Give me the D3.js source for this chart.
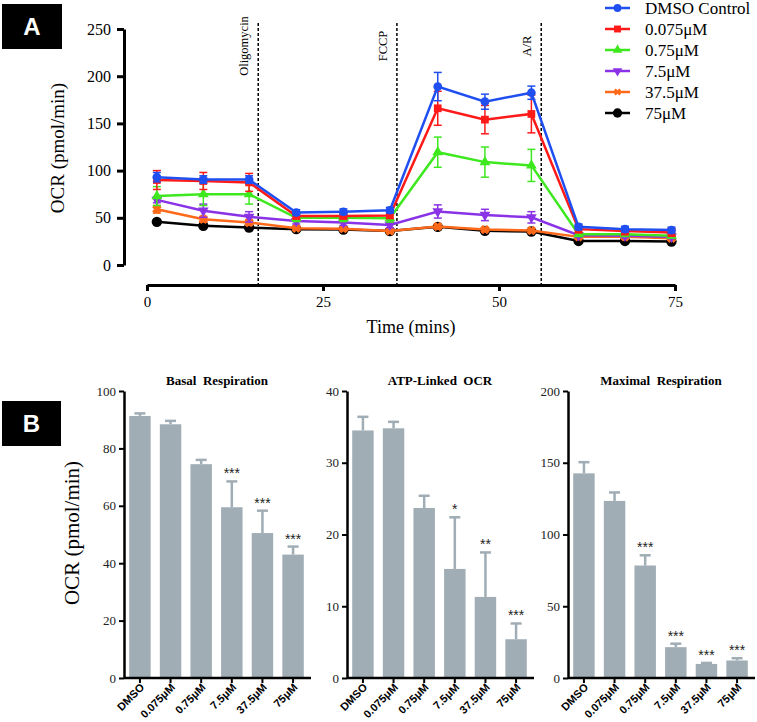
<!DOCTYPE html>
<html>
<head>
<meta charset="utf-8">
<script src="https://cdn.jsdelivr.net/npm/d3@7"></script>
<style>
  body { margin: 0; background: #fff; }
  svg { display: block; }
</style>
</head>
<body>
<svg id="chart" width="757" height="722"></svg>
<script>
// ---------------- DATA (panel A) ----------------
const times = [1.4, 8, 14.5, 21.2, 27.9, 34.5, 41.3, 48, 54.6, 61.3, 67.9, 74.5];
const seriesNames = ["DMSO Control", "0.075\u03bcM", "0.75\u03bcM", "7.5\u03bcM", "37.5\u03bcM", "75\u03bcM"];
const dmsoVals  = [93, 90.5, 90.5, 55.6, 56.4, 58, 189, 173, 182.5, 40.4, 38, 37];
const c0075Vals = [90, 89, 87.5, 52, 52, 52.5, 166, 154, 160, 38, 36, 34.5];
const c075Vals  = [73, 75, 75, 50, 50, 49.5, 119.5, 109, 105.5, 32.6, 32.6, 31];
const c75Vals   = [69, 57.5, 51, 46.5, 45, 42.5, 56.7, 53, 50.5, 31.5, 31, 30];
const c375Vals  = [59, 48.5, 45, 39, 38.5, 36, 40.8, 37.5, 36.5, 29.8, 29.8, 28.4];
const c750Vals  = [45.7, 41.5, 39.7, 38, 37.5, 36, 40.4, 36.2, 35.5, 25.5, 25.5, 24.8];
const dmsoErr  = [5, 4, 4, 3, 3, 3, 15, 8, 7, 3, 3, 3];
const c0075Err = [10, 9, 9.5, 3, 3, 3, 18, 15, 20, 4, 4, 4];
const c075Err  = [10, 12, 10.5, 4, 4, 4, 16, 16, 17, 2, 2, 2];
const c75Err   = [3, 7, 5.5, 3, 3, 3, 7, 6, 6, 2, 2, 2];
const c375Err  = [4, 3, 3, 2, 2, 2, 2, 2, 2, 2, 2, 2];
const c750Err  = [1.5, 1.5, 1.5, 1.5, 1.5, 1.5, 1.5, 1.5, 1.5, 1.5, 1.5, 1.5];
const injectionTimes = [15.8, 35.5, 56];
const injectionNames = ["Oligomycin", "FCCP", "A/R"];
const yTicksA = [0, 50, 100, 150, 200, 250];
const xTicksA = [0, 25, 50, 75];

// ---------------- DATA (panel B) ----------------
const categories = ["DMSO", "0.075\u03bcM", "0.75\u03bcM", "7.5\u03bcM", "37.5\u03bcM", "75\u03bcM"];
const basalVals = [91.3, 88.4, 74.5, 59.5, 50.5, 43];
const basalErr  = [0.9, 1.2, 1.5, 9, 7.8, 2.8];
const basalStars = ["", "", "", "***", "***", "***"];
const atpVals = [34.5, 34.8, 23.7, 15.2, 11.3, 5.4];
const atpErr  = [1.9, 0.9, 1.7, 7.2, 6.2, 2.2];
const atpStars = ["", "", "", "*", "**", "***"];
const maxVals = [142.6, 123.4, 78.4, 21.5, 9.8, 12.2];
const maxErr  = [7.8, 5.9, 7.1, 2.4, 0.7, 1.6];
const maxStars = ["", "", "***", "***", "***", "***"];
const basalTicks = [0, 20, 40, 60, 80, 100];
const atpTicks = [0, 10, 20, 30, 40];
const maxTicks = [0, 50, 100, 150, 200];

// ---------------- STYLE ----------------
const serif = "'Liberation Serif', 'Times New Roman', serif";
const sans = "'Liberation Sans', Arial, sans-serif";
const colors = ["#1f4ff0", "#ff1a1a", "#3ee81e", "#8a33e6", "#ff6a1a", "#000000"];
const barColor = "#a0adb5";

const svg = d3.select("#chart");

// ================= PANEL A =================
const allVals = [dmsoVals, c0075Vals, c075Vals, c75Vals, c375Vals, c750Vals];
const allErr = [dmsoErr, c0075Err, c075Err, c75Err, c375Err, c750Err];
const markerTypes = [d3.symbolCircle, d3.symbolSquare, d3.symbolTriangle, d3.symbolTriangle, d3.symbolCross, d3.symbolCircle];
const markerSizes = [60, 60, 50, 50, 40, 85];
const markerRot = [0, 0, 0, 180, 45, 0];

const xA = d3.scaleLinear().domain([0, 75]).range([147, 675]);
const yA = d3.scaleLinear().domain([0, 250]).range([265, 29]);

// label box A
svg.append("rect").attr("x", 2).attr("y", 4).attr("width", 60).attr("height", 45).attr("fill", "#000");
svg.append("text").attr("x", 32).attr("y", 35).attr("text-anchor", "middle")
  .attr("font-family", sans).attr("font-weight", "bold").attr("font-size", 24).attr("fill", "#fff").text("A");

// y axis
const gyA = svg.append("g").attr("transform", "translate(124,0)")
  .call(d3.axisLeft(yA).tickValues(yTicksA).tickSize(7).tickSizeOuter(0).tickPadding(6));
gyA.select(".domain").attr("stroke-width", 3).attr("stroke", "#000");
gyA.selectAll(".tick line").attr("stroke-width", 3);
gyA.selectAll(".tick text").attr("font-family", serif).attr("font-size", 16).attr("fill", "#000");

// x axis
const gxA = svg.append("g").attr("transform", "translate(0,285)")
  .call(d3.axisBottom(xA).tickValues(xTicksA).tickSize(6).tickSizeOuter(0).tickPadding(5));
gxA.select(".domain").attr("stroke-width", 3).attr("stroke", "#000");
gxA.selectAll(".tick line").attr("stroke-width", 3);
gxA.selectAll(".tick text").attr("font-family", serif).attr("font-size", 15).attr("fill", "#000");

// axis titles
svg.append("text").attr("transform", "translate(64,148) rotate(-90)").attr("text-anchor", "middle")
  .attr("font-family", serif).attr("font-size", 19).text("OCR (pmol/min)");
svg.append("text").attr("x", 411).attr("y", 333).attr("text-anchor", "middle")
  .attr("font-family", serif).attr("font-size", 18).text("Time (mins)");

// injection lines
injectionTimes.forEach((t, i) => {
  svg.append("line").attr("x1", xA(t)).attr("x2", xA(t)).attr("y1", 23).attr("y2", 285)
    .attr("stroke", "#000").attr("stroke-width", 1.5).attr("stroke-dasharray", "3,2");
  svg.append("text").attr("transform", `translate(${xA(t) - 10},46) rotate(-90)`)
    .attr("text-anchor", "middle").attr("font-family", serif).attr("font-size", 12.5)
    .text(injectionNames[i]);
});

// series: draw in reverse so DMSO on top
const line = d3.line().x((d, i) => xA(times[i])).y(d => yA(d));
for (let s = allVals.length - 1; s >= 0; s--) {
  const vals = allVals[s], errs = allErr[s], col = colors[s];
  const g = svg.append("g");
  g.append("path").datum(vals).attr("d", line).attr("fill", "none")
    .attr("stroke", col).attr("stroke-width", 2.5);
  vals.forEach((v, i) => {
    const x = xA(times[i]);
    g.append("line").attr("x1", x).attr("x2", x).attr("y1", yA(v - errs[i])).attr("y2", yA(v + errs[i]))
      .attr("stroke", col).attr("stroke-width", 1.5);
    [v - errs[i], v + errs[i]].forEach(e => {
      g.append("line").attr("x1", x - 4).attr("x2", x + 4).attr("y1", yA(e)).attr("y2", yA(e))
        .attr("stroke", col).attr("stroke-width", 1.5);
    });
    g.append("path").attr("d", d3.symbol().type(markerTypes[s]).size(markerSizes[s])())
      .attr("transform", `translate(${x},${yA(v)}) rotate(${markerRot[s]})`)
      .attr("fill", col).attr("stroke", s === 4 ? col : "none").attr("stroke-width", 1);
  });
}

// legend
const legY = [8, 29, 50, 71, 92, 113];
seriesNames.forEach((n, i) => {
  const g = svg.append("g").attr("transform", `translate(0,${legY[i]})`);
  g.append("line").attr("x1", 605).attr("x2", 630).attr("y1", 0).attr("y2", 0)
    .attr("stroke", colors[i]).attr("stroke-width", 2.5);
  g.append("path").attr("d", d3.symbol().type(markerTypes[i]).size(markerSizes[i] * 0.8)())
    .attr("transform", `translate(617.5,0) rotate(${markerRot[i]})`).attr("fill", colors[i]);
  g.append("text").attr("x", 645).attr("y", 6).attr("font-family", serif).attr("font-size", 17).text(n);
});

// ================= PANEL B =================
svg.append("rect").attr("x", 2).attr("y", 401).attr("width", 59).attr("height", 45).attr("fill", "#000");
svg.append("text").attr("x", 31.5).attr("y", 432).attr("text-anchor", "middle")
  .attr("font-family", sans).attr("font-weight", "bold").attr("font-size", 24).attr("fill", "#fff").text("B");

svg.append("text").attr("transform", "translate(79,533) rotate(-90)").attr("text-anchor", "middle")
  .attr("font-family", serif).attr("font-size", 21).text("OCR (pmol/min)");

const panels = [
  { x0: 124, title: "Basal  Respiration", vals: basalVals, errs: basalErr, stars: basalStars, ticks: basalTicks, max: 100 },
  { x0: 347, title: "ATP-Linked  OCR", vals: atpVals, errs: atpErr, stars: atpStars, ticks: atpTicks, max: 40 },
  { x0: 568, title: "Maximal  Respiration", vals: maxVals, errs: maxErr, stars: maxStars, ticks: maxTicks, max: 200 }
];

panels.forEach(p => {
  const x = d3.scaleBand().domain(categories).range([p.x0, p.x0 + 185]).paddingInner(0.3).paddingOuter(0.17);
  const y = d3.scaleLinear().domain([0, p.max]).range([678, 391]);
  const g = svg.append("g");

  // error bars (upper only)
  categories.forEach((c, i) => {
    const cx = x(c) + x.bandwidth() / 2;
    const top = y(p.vals[i] + p.errs[i]);
    g.append("line").attr("x1", cx).attr("x2", cx).attr("y1", y(p.vals[i])).attr("y2", top)
      .attr("stroke", barColor).attr("stroke-width", 2.5);
    g.append("line").attr("x1", cx - 5.5).attr("x2", cx + 5.5).attr("y1", top).attr("y2", top)
      .attr("stroke", barColor).attr("stroke-width", 2.5);
    if (p.stars[i]) {
      g.append("text").attr("x", cx).attr("y", top - 3).attr("text-anchor", "middle")
        .attr("font-family", sans).attr("font-size", 14).attr("fill", "#222").text(p.stars[i]);
    }
  });
  // bars
  g.selectAll("rect.bar").data(p.vals).enter().append("rect")
    .attr("x", (d, i) => x(categories[i])).attr("y", d => y(d))
    .attr("width", x.bandwidth()).attr("height", d => 678 - y(d)).attr("fill", barColor);

  // axes
  const gy = svg.append("g").attr("transform", `translate(${p.x0},0)`)
    .call(d3.axisLeft(y).tickValues(p.ticks).tickSize(5).tickSizeOuter(0).tickPadding(3));
  gy.select(".domain").attr("stroke-width", 2.5).attr("stroke", "#000");
  gy.selectAll(".tick line").attr("stroke-width", 2);
  gy.selectAll(".tick text").attr("font-family", serif).attr("font-size", 13).attr("fill", "#222");

  const gx = svg.append("g").attr("transform", "translate(0,678)")
    .call(d3.axisBottom(x).tickSize(5).tickSizeOuter(0).tickFormat(""));
  gx.select(".domain").attr("d", `M${p.x0},0H${p.x0 + 187}`).attr("stroke-width", 2.5).attr("stroke", "#000");
  gx.selectAll(".tick line").attr("stroke-width", 2);
  gx.selectAll(".tick").append("text")
    .attr("transform", "translate(3,8) rotate(-45)")
    .attr("text-anchor", "end").attr("dominant-baseline", "middle")
    .attr("font-family", sans).attr("font-weight", "bold").attr("font-size", 11).attr("fill", "#000")
    .text(d => d);

  svg.append("text").attr("x", p.x0 + 93).attr("y", 385).attr("text-anchor", "middle")
    .attr("font-family", serif).attr("font-weight", "bold").attr("font-size", 13)
    .style("white-space", "pre").text(p.title);
});
</script>
</body>
</html>
